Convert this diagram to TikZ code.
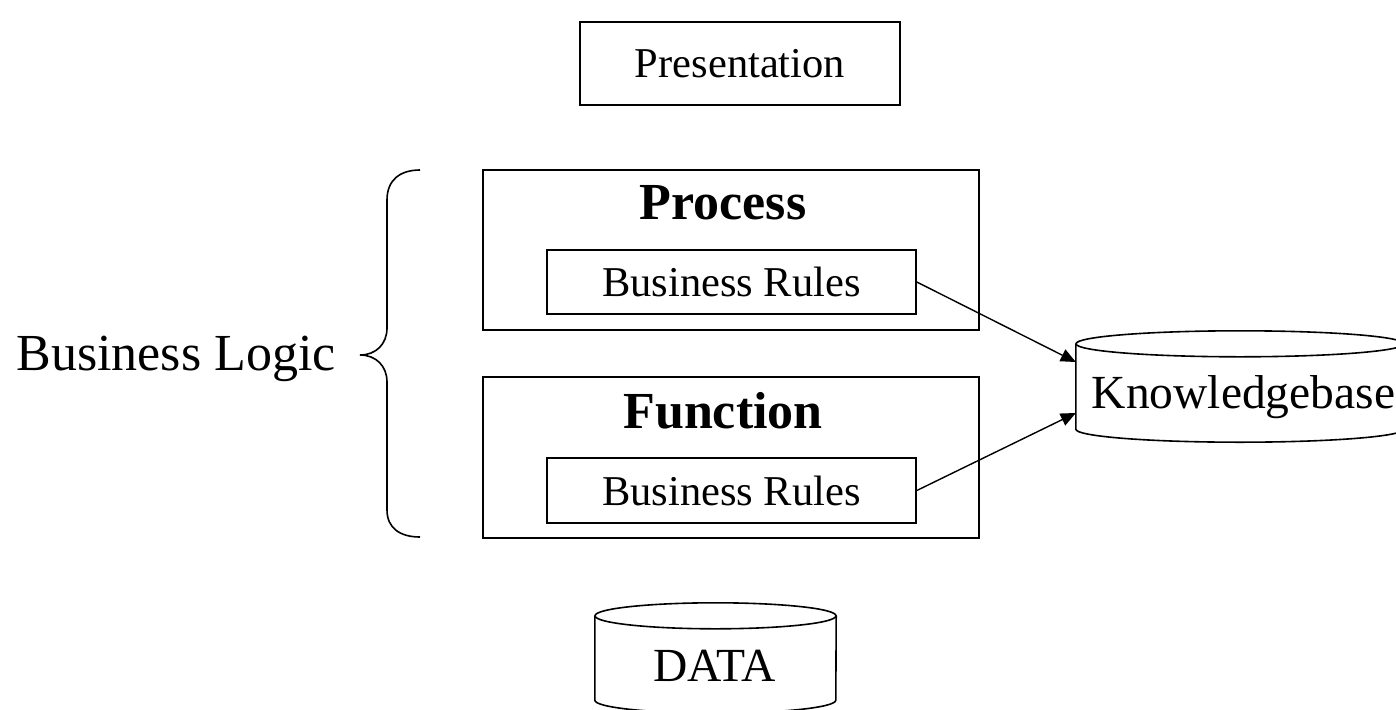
\documentclass[tikz,border=0pt]{standalone}
\usepackage{fontspec}
\setmainfont{Liberation Serif}
\usetikzlibrary{arrows.meta,calc}

\tikzset{
  box/.style={draw, line width=1.6pt, inner sep=0pt, font=\fontsize{42.5}{48}\selectfont},
  title/.style={font=\fontsize{52}{60}\selectfont\bfseries, inner sep=0pt},
  body/.style={inner sep=0pt},
  drum/.style={inner sep=0pt, font=\fontsize{47.5}{54}\selectfont},
  link/.style={line width=1.4pt, -{Triangle[length=15pt,width=13pt]}},
  line/.style={line width=1.6pt},
}

\begin{document}
\begin{tikzpicture}[x=1pt, y=-1pt]
  \useasboundingbox (0,0) rectangle (1396,709);
  \clip (0,0) rectangle (1396,709);

  % presentation layer
  \node[box, minimum width=320pt, minimum height=83pt] (pres) at (740,63.5) {Presentation};

  % process container
  \node[box, minimum width=496pt, minimum height=160pt] (proc) at (731,250) {};
  \node[title] (proct) at (723,203) {Process};
  \node[box, minimum width=369pt, minimum height=64pt] (br1) at (731.5,282) {Business Rules};

  % function container
  \node[box, minimum width=496pt, minimum height=161pt] (func) at (731,457.5) {};
  \node[title] (funct) at (723,411) {Function};
  \node[box, minimum width=369pt, minimum height=65pt] (br2) at (731.5,490.5) {Business Rules};

  % label and curly brace
  \node[inner sep=0pt, font=\fontsize{52}{60}\selectfont] (logic) at (176,359) {Business Logic};
  \draw[line] (420,170) .. controls (400,170) and (387,180) .. (387,200)
        -- (387,328) .. controls (387,344) and (376,355) .. (360,355)
        .. controls (376,355) and (387,366) .. (387,382)
        -- (387,510) .. controls (387,528) and (400,537) .. (420,537);

  % knowledgebase cylinder
  \node[body, minimum width=328pt, minimum height=85pt] (kb) at (1240,386.5) {};
  \draw[line] (kb.north west) -- (kb.south west)
        arc[start angle=180, end angle=360, x radius=164pt, y radius=13pt]
        -- (kb.north east);
  \draw[line] (kb.north) ellipse[x radius=164pt, y radius=13pt];
  \node[drum] (kbt) at (1243.5,397) {Knowledgebase};

  % data cylinder
  \node[body, minimum width=241pt, minimum height=84pt] (data) at (715.5,658) {};
  \draw[line] (data.north west) -- (data.south west)
        arc[start angle=180, end angle=360, x radius=120.5pt, y radius=13pt]
        -- (data.north east);
  \draw[line] (data.north) ellipse[x radius=120.5pt, y radius=13pt];
  \node[drum] (datat) at (714.5,666) {DATA};

  % rule links
  \draw[link] (br1.east) -- ([yshift=24.5pt]kb.west);
  \draw[link] (br2.east) -- ([yshift=-26.5pt]kb.west);
\end{tikzpicture}
\end{document}
